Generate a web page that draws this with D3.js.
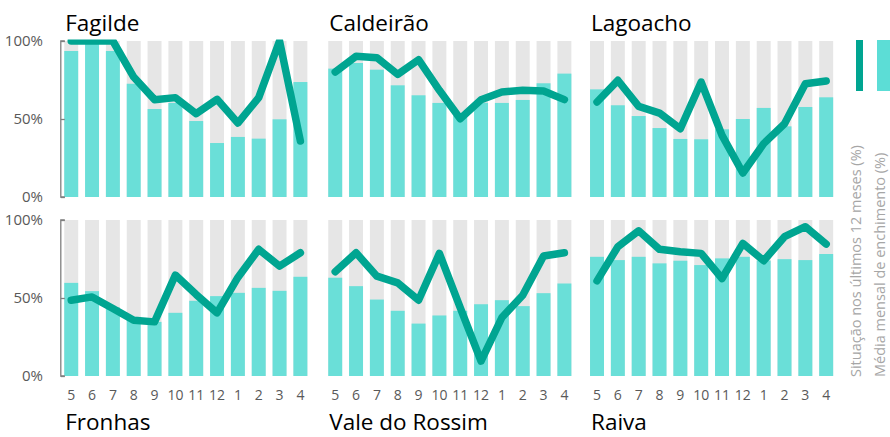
<!DOCTYPE html>
<html><head><meta charset="utf-8">
<script src="https://cdn.jsdelivr.net/npm/d3@7"></script>
<style>body{margin:0;background:#fff}svg{display:block}</style>
</head><body><svg id="c" width="890" height="437"></svg>
<script>
const months = ["5","6","7","8","9","10","11","12","1","2","3","4"];
const yTicks = [0, 50, 100];
const names = ["Fagilde","Caldeirão","Lagoacho","Fronhas","Vale do Rossim","Raiva"];
// Média mensal de enchimento (%)
const fagildeMedia   = [93.6, 99, 93.6, 72.6, 56.4, 60.3, 48.7, 34.6, 38.5, 37.4, 49.8, 73.7];
const caldeiraoMedia = [82.3, 85.9, 81.6, 71.6, 65.2, 60.3, 52, 60.4, 60.3, 62.2, 72.9, 79.1];
const lagoachoMedia  = [69.0, 58.8, 51.9, 44.2, 37.2, 37.0, 43.4, 50.0, 57.1, 45.3, 57.7, 63.9];
const fronhasMedia   = [59.7, 54.4, 44, 37.9, 34.7, 40.5, 48.2, 51.2, 53.3, 56.5, 54.6, 63.6];
const valeMedia      = [63.0, 57.6, 49.0, 41.8, 33.6, 38.8, 41.8, 46.0, 48.6, 44.8, 53.1, 59.3];
const raivaMedia     = [76.4, 74.3, 76.4, 72.2, 73.9, 71.1, 75.4, 76.4, 74, 74.9, 74.3, 78.2];
// Situação nos últimos 12 meses (%)
const fagildeSit   = [100, 100, 100, 76.9, 62.4, 63.7, 53.4, 62.6, 47.4, 63.7, 100, 35.9];
const caldeiraoSit = [80.1, 90.2, 89.3, 78.6, 88.0, 68.4, 50.2, 62.4, 67.3, 68.4, 67.9, 62.4];
const lagoachoSit  = [60.9, 74.8, 58.1, 53.8, 43.8, 73.7, 39.5, 15.4, 34.2, 47.0, 72.6, 74.4];
const fronhasSit   = [48.6, 50.7, 43.3, 35.8, 34.7, 64.7, 52.2, 40.5, 63.2, 81.2, 70.4, 79.0];
const valeSit      = [66.8, 79.0, 64.0, 59.7, 48.6, 78.6, 43.8, 9.6, 37.5, 51.8, 76.9, 79.0];
const raivaSit     = [61.0, 82.9, 93.1, 81.2, 79.7, 78.6, 62.5, 85.0, 73.9, 89.3, 95.7, 84.6];

const medias = [fagildeMedia, caldeiraoMedia, lagoachoMedia, fronhasMedia, valeMedia, raivaMedia];
const sits = [fagildeSit, caldeiraoSit, lagoachoSit, fronhasSit, valeSit, raivaSit];

const svg = d3.select("#c");
const FONT = "'Open Sans', sans-serif";
const colX = [60.8, 324.8, 586.6];
const rowY = [[41, 197], [220, 376]];
const PW = 250;
const GRAY = "#e6e6e6", BAR = "#6adfd8", LINE = "#00a591";

names.forEach((name, i) => {
  const col = i % 3, row = Math.floor(i / 3);
  const x = d3.scaleBand().domain(months).range([colX[col], colX[col] + PW]).paddingInner(0.33).paddingOuter(0.165);
  const y = d3.scaleLinear().domain([0, 100]).range([rowY[row][1], rowY[row][0]]);
  const g = svg.append("g");
  const clipId = "clip" + i;
  svg.append("clipPath").attr("id", clipId).append("rect")
    .attr("x", colX[col] - 10).attr("y", y(100) - 1.5).attr("width", PW + 20).attr("height", y(0) - y(100) + 10);

  g.selectAll(".bg").data(months).join("rect")
    .attr("x", d => x(d)).attr("width", x.bandwidth())
    .attr("y", y(100)).attr("height", y(0) - y(100)).attr("fill", GRAY);
  g.selectAll(".bar").data(medias[i]).join("rect")
    .attr("x", (d, k) => x(months[k])).attr("width", x.bandwidth())
    .attr("y", d => y(d)).attr("height", d => y(0) - y(d)).attr("fill", BAR);
  const line = d3.line().x((d, k) => x(months[k]) + x.bandwidth() / 2).y(d => y(d));
  g.append("path").datum(sits[i]).attr("d", line)
    .attr("fill", "none").attr("stroke", LINE).attr("stroke-width", 7.5)
    .attr("stroke-linejoin", "round").attr("stroke-linecap", "round")
    .attr("clip-path", `url(#${clipId})`);

  if (col === 0) {
    const ax = g.append("g").attr("transform", `translate(${colX[col]},0)`)
      .call(d3.axisRight(y).tickValues(yTicks).tickSize(4).tickFormat(""));
    ax.selectAll("path,line").attr("stroke", "#7f7f7f").attr("stroke-width", 1.3);
    ax.select(".domain").attr("d", `M4,${y(100)}H0V${y(0)}H4`);
    g.selectAll(".yl").data(yTicks).join("text")
      .attr("x", 43).attr("y", d => y(d)).attr("dy", "0.35em")
      .attr("text-anchor", "end").attr("font-family", FONT).attr("font-size", 15)
      .attr("fill", "#595959").text(d => d + "%");
  }
  if (row === 1) {
    g.selectAll(".xl").data(months).join("text")
      .attr("x", d => x(d) + x.bandwidth() / 2).attr("y", 395).attr("dy", "0.35em")
      .attr("text-anchor", "middle").attr("font-family", FONT).attr("font-size", 14)
      .attr("fill", "#595959").text(d => d);
  }
  g.append("text").attr("x", x(months[0]) + 1).attr("y", row === 0 ? 31 : 430)
    .attr("font-family", FONT).attr("font-size", 22.5).attr("fill", "#000").text(name);
});

// legend
svg.append("rect").attr("x", 856).attr("y", 40).attr("width", 7).attr("height", 51).attr("fill", LINE);
svg.append("rect").attr("x", 877).attr("y", 40).attr("width", 13).attr("height", 51).attr("fill", "#5cddd6");
const legTexts = ["Situação nos últimos 12 meses (%)", "Média mensal de enchimento (%)"];
const legX = [856, 879.5];
legTexts.forEach((t, k) => {
  svg.append("text").attr("transform", `translate(${legX[k]},377) rotate(-90)`)
    .attr("dy", "0.35em").attr("font-family", FONT).attr("font-size", 14.5)
    .attr("fill", "#a6a6a6").text(t);
});
</script></body></html>
